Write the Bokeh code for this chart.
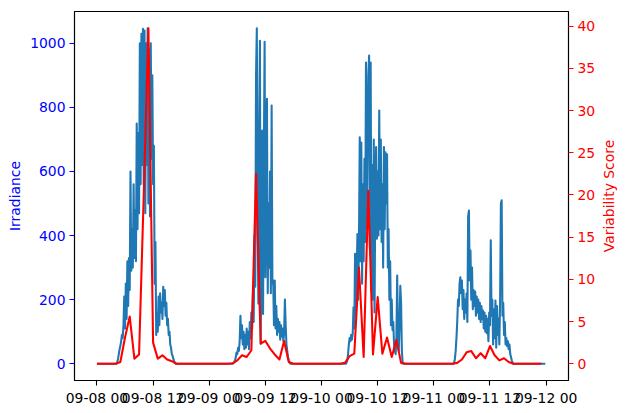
import math
import numpy as np
import pandas as pd
from bokeh.plotting import figure
from bokeh.layouts import row
from bokeh.models import Range1d, LinearAxis, FixedTicker, DatetimeTickFormatter, AllLabels, Label
from bokeh.embed import file_html
from bokeh.resources import INLINE

# ---------------- data ----------------
# Irradiance, 10-minute readings; night-time readings are zero.
irr_series_start = "2023-09-08 00:00"
irr_series_end = "2023-09-11 23:50"

irr_day1_start = "2023-09-08 04:00"
irr_day1 = [0, 0, 5, 15, 30, 45,
            55, 70, 90, 80, 120, 210,
            110, 250, 140, 320, 180, 330,
            230, 600, 290, 420, 300, 560,
            330, 480, 320, 750, 420, 720,
            470, 1000, 560, 1030, 620, 1045,
            560, 1040, 470, 1000, 620, 1047,
            500, 980, 460, 1000, 640, 900,
            560, 680, 250, 380, 90, 160,
            100, 210, 120, 220, 160, 190,
            140, 240, 180, 230, 150, 190,
            120, 140, 90, 100, 60, 50,
            30, 25, 15, 8, 3, 0]

irr_day2_start = "2023-09-09 05:00"
irr_day2 = [0, 2, 5, 10, 20, 35,
            30, 50, 40, 70, 150, 80,
            120, 60, 100, 45, 90, 50,
            110, 60, 100, 45, 130, 80,
            160, 110, 220, 130, 400, 240,
            900, 1047, 480, 187, 700, 1008,
            62, 400, 728, 155, 640, 1005,
            270, 560, 827, 220, 500, 300,
            600, 220, 806, 250, 260, 120,
            260, 110, 180, 90, 140, 100,
            130, 75, 120, 85, 110, 70,
            95, 200, 120, 60, 40, 20,
            10, 4, 0]

irr_day3_start = "2023-09-10 05:00"
irr_day3 = [0, 0, 3, 10, 30, 60,
            80, 70, 90, 75, 95, 176,
            110, 343, 150, 260, 405, 200,
            380, 707, 320, 690, 250, 560,
            320, 640, 380, 940, 420, 700,
            900, 962, 360, 940, 230, 620,
            200, 700, 160, 560, 676, 390,
            600, 400, 790, 420, 700, 380,
            560, 300, 676, 420, 660, 500,
            654, 300, 420, 200, 320, 120,
            200, 105, 130, 60, 40, 30,
            80, 275, 90, 40, 120, 243,
            190, 40, 5, 0]

irr_day4_start = "2023-09-11 04:10"
irr_day4 = [0, 3, 15, 40, 80,
            130, 200, 180, 250, 270, 220,
            260, 170, 230, 140, 200, 160,
            220, 130, 460, 478, 260, 353,
            200, 300, 170, 230, 180, 225,
            150, 210, 160, 200, 140, 190,
            130, 180, 140, 166, 110, 160,
            100, 150, 95, 140, 70, 160,
            120, 385, 150, 200, 60, 170,
            80, 197, 50, 180, 90, 140,
            60, 200, 500, 510, 150, 190,
            90, 130, 60, 80, 55, 70,
            45, 60, 30, 20, 10, 4, 0]

# Variability score, hourly
score_start = "2023-09-08 00:00"
score_values = [
    0, 0, 0, 0, 0, 0.2, 3.1, 5.6, 0.6, 1.1, 20.0, 39.75, 2.5, 0.6, 1.0, 0.5, 0.3, 0, 0, 0, 0, 0, 0, 0,
    0, 0, 0, 0, 0, 0.05, 0.4, 1.0, 0.8, 1.6, 22.5, 2.4, 2.7, 1.8, 1.1, 0.5, 2.7, 0.2, 0, 0, 0, 0, 0, 0,
    0, 0, 0, 0, 0, 0.1, 0.9, 1.2, 11.4, 0.8, 20.5, 1.1, 7.9, 1.2, 3.1, 0.8, 2.8, 0.1, 0, 0, 0, 0, 0, 0,
    0, 0, 0, 0, 0, 0.1, 0.5, 1.35, 1.5, 0.65, 1.25, 0.65, 2.1, 1.0, 0.4, 0.65, 0.2, 0, 0, 0, 0, 0, 0, 0,
]

x_tick_times = ["2023-09-08 00:00", "2023-09-08 12:00", "2023-09-09 00:00", "2023-09-09 12:00",
                "2023-09-10 00:00", "2023-09-10 12:00", "2023-09-11 00:00", "2023-09-11 12:00",
                "2023-09-12 00:00"]
irr_ticks = [0, 200, 400, 600, 800, 1000]
score_ticks = [0, 5, 10, 15, 20, 25, 30, 35, 40]
irr_label = "Irradiance"
score_label = "Variability Score"

# ---------------- build series ----------------
irr_times = pd.date_range(irr_series_start, irr_series_end, freq="10min")
irr_vals = np.zeros(len(irr_times))
for start, vals in [(irr_day1_start, irr_day1), (irr_day2_start, irr_day2),
                    (irr_day3_start, irr_day3), (irr_day4_start, irr_day4)]:
    i0 = irr_times.get_loc(pd.Timestamp(start))
    irr_vals[i0:i0 + len(vals)] = vals

score_times = pd.date_range(score_start, periods=len(score_values), freq="h")


def ms(t):
    return pd.Timestamp(t).value / 1e6


# matplotlib-like 5% margins
t0 = ms(irr_series_start)
t1 = ms(pd.Timestamp(irr_series_end) + pd.Timedelta(minutes=9))
dt = (t1 - t0) * 0.05
ymax = float(np.max(irr_vals)); ymin = 0.0
ym = (ymax - ymin) * 0.05
smax = max(score_values); smin = min(score_values)
sm = (smax - smin) * 0.05

FONT = "DejaVu Sans"
FS = "13.9px"
LW = 2.08
H = 413
BL, BR, BT, BB = 74, 28, 11, 33
W1 = 570 + BR          # main figure; frame spans x 74..570
W2 = 627 - W1          # strip holding the right-hand axis title

p = figure(width=W1, height=H, x_axis_type="datetime",
           output_backend="svg", toolbar_location=None,
           x_range=Range1d(t0 - dt, t1 + dt), y_range=Range1d(ymin - ym, ymax + ym),
           min_border_left=BL, min_border_right=BR, min_border_top=BT, min_border_bottom=BB)
p.background_fill_color = "white"
p.border_fill_color = "white"
p.outline_line_color = "black"
p.outline_line_width = 1.1
p.xgrid.visible = False
p.ygrid.visible = False

p.line(x=irr_times, y=irr_vals, line_color="#1f77b4", line_width=LW, line_join="round")

p.extra_y_ranges = {"score": Range1d(smin - sm, smax + sm)}
p.line(x=score_times, y=score_values, line_color="#ff0000", line_width=LW,
       line_join="round", y_range_name="score")

ax2 = LinearAxis(y_range_name="score")
p.add_layout(ax2, "right")

xaxis = p.below[0]
yaxis = p.left[0]
yaxis.axis_label = irr_label

fmt = "%m-%d %H"
xaxis.ticker = FixedTicker(ticks=[ms(t) for t in x_tick_times])
xaxis.formatter = DatetimeTickFormatter(
    microseconds=fmt, milliseconds=fmt, seconds=fmt, minsec=fmt, minutes=fmt,
    hourmin=fmt, hours=fmt, days=fmt, months=fmt, years=fmt)
xaxis.major_label_policy = AllLabels()
yaxis.ticker = FixedTicker(ticks=irr_ticks)
ax2.ticker = FixedTicker(ticks=score_ticks)

for ax in (xaxis, yaxis, ax2):
    ax.major_label_text_font = FONT
    ax.major_label_text_font_size = FS
    ax.axis_label_text_font = FONT
    ax.axis_label_text_font_size = FS
    ax.axis_label_text_font_style = "normal"
    ax.minor_tick_line_color = None
    ax.major_tick_in = 0
    ax.major_tick_out = 5
    ax.major_tick_line_width = 1.1
    ax.axis_line_color = "black"
    ax.axis_line_width = 1.1
    ax.major_label_standoff = 4
    ax.axis_label_standoff = 4

xaxis.major_label_text_color = "black"
yaxis.major_label_text_color = "#0000ff"
yaxis.major_tick_line_color = "#0000ff"
yaxis.axis_label_text_color = "#0000ff"
ax2.major_label_text_color = "#ff0000"
ax2.major_tick_line_color = "#ff0000"

# narrow strip to the right carrying the right-axis title (reads bottom-to-top)
p2 = figure(width=W2, height=H, output_backend="svg", toolbar_location=None,
            x_range=Range1d(0, W2), y_range=Range1d(0, 1),
            x_axis_location=None, y_axis_location=None,
            min_border_left=0, min_border_right=0, min_border_top=BT, min_border_bottom=BB)
p2.outline_line_color = None
p2.xgrid.visible = False
p2.ygrid.visible = False
p2.background_fill_color = "white"
p2.border_fill_color = "white"
p2.add_layout(Label(x=608.5 - W1, y=0.5, text=score_label, angle=math.pi / 2,
                    text_align="center", text_baseline="middle",
                    text_font=FONT, text_font_size=FS, text_color="#ff0000"))

layout = row(p, p2, spacing=0)
open("out.html", "w").write(file_html(layout, INLINE))
